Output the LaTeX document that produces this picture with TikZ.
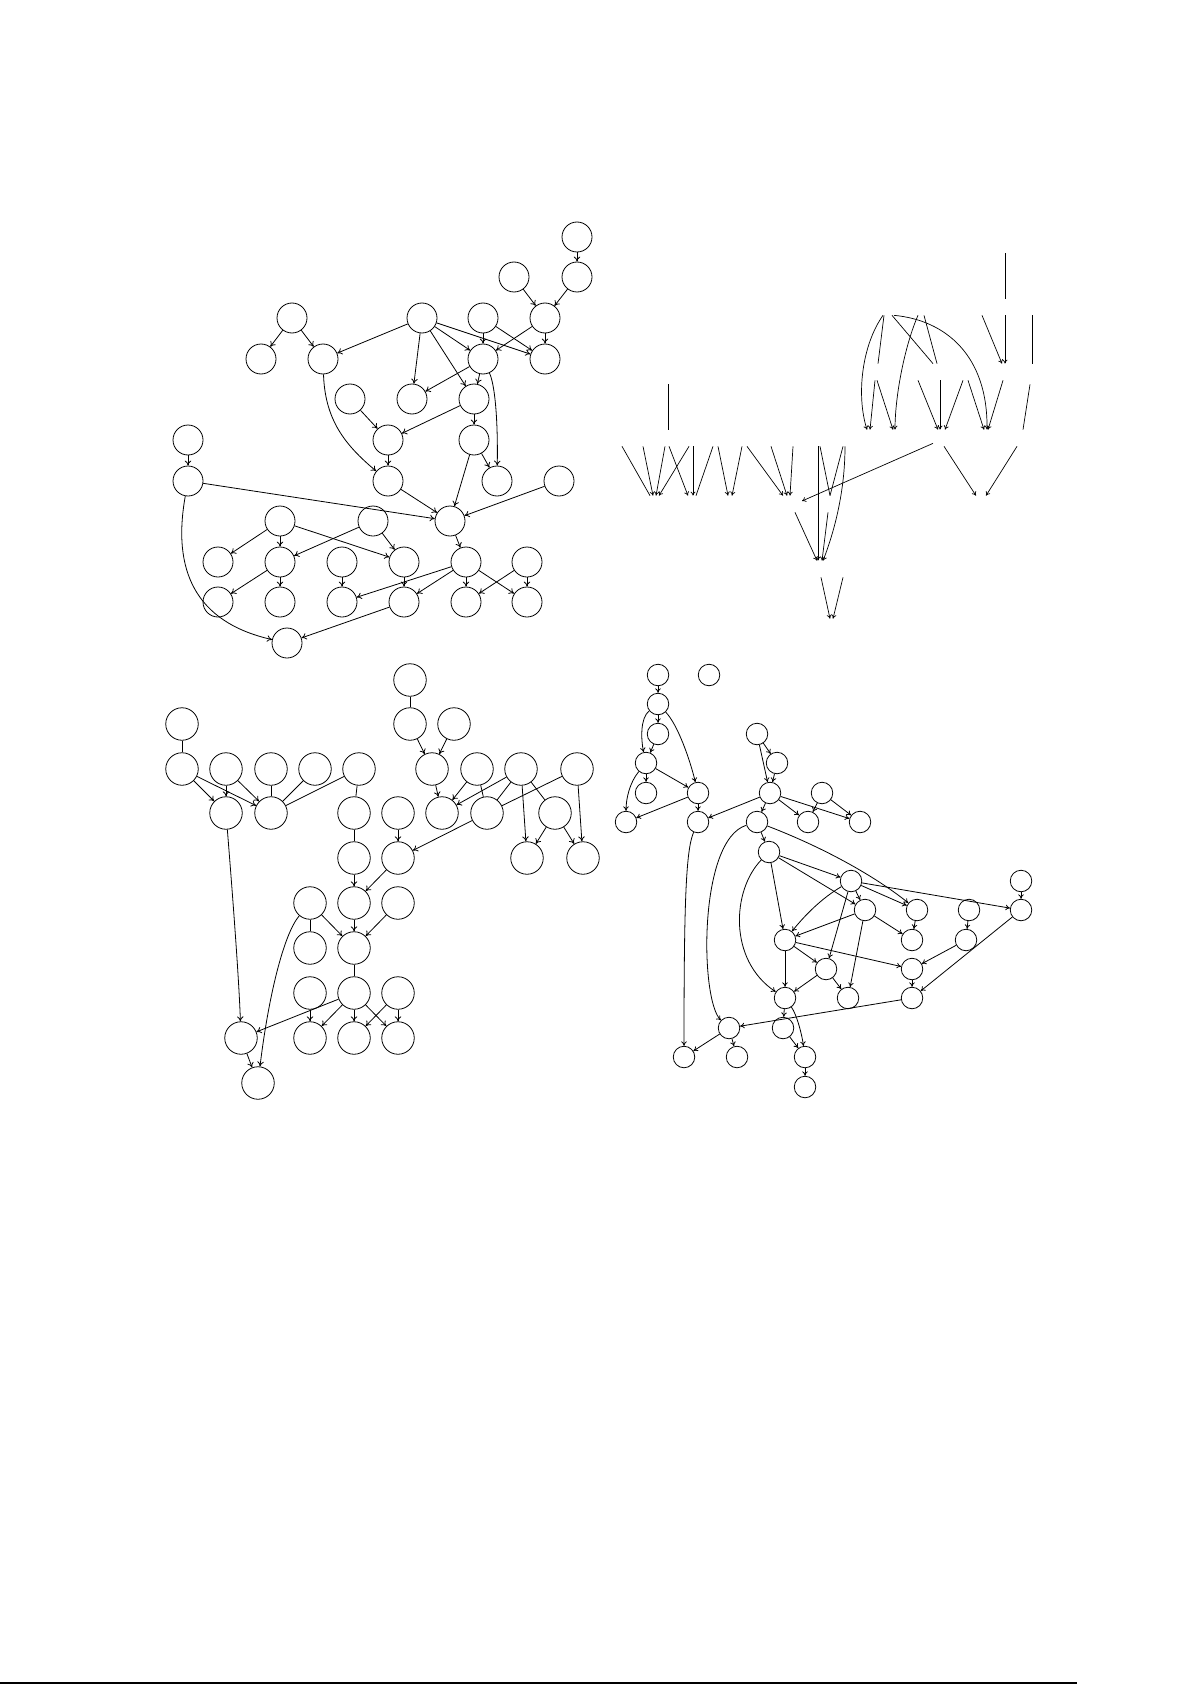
\documentclass[tikz,border=0pt]{standalone}
\usepackage{tikz}
\usetikzlibrary{arrows.meta}
\begin{document}
\begin{tikzpicture}[x=1pt,y=-1pt,line width=0.8pt,
  >={To[length=5pt,width=6.5pt]},
  bigv/.style={circle,draw,inner sep=0pt,minimum size=30pt},
  widev/.style={circle,draw,inner sep=0pt,minimum size=32.5pt},
  smallv/.style={circle,draw,inner sep=0pt,minimum size=21.5pt},
  ghost/.style={inner sep=0pt,minimum width=1pt,minimum height=16pt}]
\useasboundingbox (0,0) rectangle (1192,1685);

% Grafo superior izquierdo
\node[bigv] (a0) at (577,237) {};
\node[bigv] (a2) at (514,277) {};
\node[bigv] (a3) at (577,277) {};
\node[bigv] (a4) at (292,318) {};
\node[bigv] (a5) at (422,318) {};
\node[bigv] (a6) at (483,318) {};
\node[bigv] (a7) at (545,318) {};
\node[bigv] (a8) at (261,359) {};
\node[bigv] (a9) at (323,359) {};
\node[bigv] (a10) at (483,359) {};
\node[bigv] (a11) at (545,359) {};
\node[bigv] (a12) at (350,399) {};
\node[bigv] (a13) at (412,399) {};
\node[bigv] (a14) at (474,399) {};
\node[bigv] (b1) at (188,440) {};
\node[bigv] (b3) at (388,440) {};
\node[bigv] (b4) at (474,440) {};
\node[bigv] (b2) at (188,481) {};
\node[bigv] (b5) at (388,481) {};
\node[bigv] (b6) at (497,481) {};
\node[bigv] (b7) at (559,481) {};
\node[bigv] (b8) at (280,521) {};
\node[bigv] (b9) at (373,521) {};
\node[bigv] (b10) at (450,521) {};
\node[bigv] (b11) at (218,562) {};
\node[bigv] (b12) at (280,562) {};
\node[bigv] (b13) at (342,562) {};
\node[bigv] (b14) at (404,562) {};
\node[bigv] (b15) at (466,562) {};
\node[bigv] (b16) at (527,562) {};
\node[bigv] (b17) at (218,602) {};
\node[bigv] (b18) at (280,602) {};
\node[bigv] (b19) at (342,602) {};
\node[bigv] (b20) at (404,602) {};
\node[bigv] (b21) at (466,602) {};
\node[bigv] (b22) at (527,602) {};
\node[bigv] (b23) at (287,643) {};

\draw[->] (a0) -- (a3);
\draw[->] (a2) -- (a7);
\draw[->] (a3) -- (a7);
\draw[->] (a4) -- (a8);
\draw[->] (a4) -- (a9);
\draw[->] (a5) -- (a9);
\draw[->] (a5) -- (a13);
\draw[->] (a5) -- (a14);
\draw[->] (a5) -- (a10);
\draw[->] (a5) -- (a11);
\draw[->] (a6) -- (a10);
\draw[->] (a6) -- (a11);
\draw[->] (a7) -- (a10);
\draw[->] (a7) -- (a11);
\draw[->] (a10) -- (a13);
\draw[->] (a10) -- (a14);
\draw[->] (a10) .. controls (495,385) and (498,420) .. (b6);
\draw[->] (a9) .. controls (325,420) and (345,445) .. (b5);
\draw[->] (a12) -- (b3);
\draw[->] (a14) -- (b3);
\draw[->] (a14) -- (b4);
\draw[->] (b1) -- (b2);
\draw[->] (b2) -- (b10);
\draw[->] (b2) .. controls (172,570) and (195,622) .. (b23);
\draw[->] (b3) -- (b5);
\draw[->] (b5) -- (b10);
\draw[->] (b4) -- (b10);
\draw[->] (b4) -- (b6);
\draw[->] (b7) -- (b10);
\draw[->] (b8) -- (b11);
\draw[->] (b8) -- (b12);
\draw[->] (b8) -- (b14);
\draw[->] (b9) -- (b12);
\draw[->] (b9) -- (b14);
\draw[->] (b10) -- (b15);
\draw[->] (b12) -- (b17);
\draw[->] (b12) -- (b18);
\draw[->] (b13) -- (b19);
\draw[->] (b14) -- (b20);
\draw[->] (b15) -- (b19);
\draw[->] (b15) -- (b20);
\draw[->] (b15) -- (b21);
\draw[->] (b15) -- (b22);
\draw[->] (b16) -- (b21);
\draw[->] (b16) -- (b22);
\draw[->] (b20) -- (b23);

% Grafo superior derecho (nodos invisibles)
\begin{scope}[line width=0.7pt,>={To[length=4pt,width=5pt]}]
\node[ghost] (t0) at (1005,245) {};
\node[ghost] (t1a) at (888,307) {};
\node[ghost] (t1b) at (921,307) {};
\node[ghost] (t1c) at (980,307) {};
\node[ghost] (t1d) at (1005,307) {};
\node[ghost] (t1e) at (1032,307) {};
\node[ghost] (t2a) at (668,372) {};
\node[ghost] (t2b) at (878,372) {};
\node[ghost] (t2c) at (929,372) {};
\node[ghost] (t2d) at (966,372) {};
\node[ghost] (t2e) at (1003,372) {};
\node[ghost] (t2f) at (1030,372) {};
\node[ghost] (t3a) at (632,438) {};
\node[ghost] (t3b) at (667,438) {};
\node[ghost] (t3c) at (691,438) {};
\node[ghost] (t3d) at (715,438) {};
\node[ghost] (t3e) at (745,438) {};
\node[ghost] (t3f) at (771,438) {};
\node[ghost] (t3g) at (793,438) {};
\node[ghost] (t3h) at (819,438) {};
\node[ghost] (t3i) at (844,438) {};
\node[ghost] (t3j) at (869,438) {};
\node[ghost] (t3k) at (894,438) {};
\node[ghost] (t3l) at (941,438) {};
\node[ghost] (t3m) at (986,438) {};
\node[ghost] (t3n) at (1023,438) {};
\node[ghost] (t4a) at (655,504) {};
\node[ghost] (t4b) at (692,504) {};
\node[ghost] (t4c) at (730,504) {};
\node[ghost] (t4d) at (789,504) {};
\node[ghost] (t4e) at (830,504) {};
\node[ghost] (t4f) at (981,504) {};
\node[ghost] (t5a) at (820,569) {};
\node[ghost] (t5b) at (843,569) {};
\node[ghost] (t6) at (831,627) {};

\draw (t0.south) -- (t1d.north);
\draw[->] ([xshift=-5pt]t1a.south) .. controls (862,345) and (856,395) .. ([xshift=-2pt]t3j.north);
\draw ([xshift=-4pt]t1a.south) -- (t2b.north);
\draw ([xshift=4pt]t1a.south) -- ([xshift=4pt]t2c.north);
\draw[->] ([xshift=6pt]t1a.south) .. controls (945,320) and (988,355) .. ([xshift=1pt]t3m.north);
\draw[->] ([xshift=-3pt]t1b.south) .. controls (905,345) and (895,395) .. ([xshift=1pt]t3k.north);
\draw ([xshift=3pt]t1b.south) -- ([xshift=8pt]t2c.north);
\draw[->] ([xshift=2pt]t1c.south) -- ([xshift=-1pt]t2e.north);
\draw[->] (t1d.south) -- ([xshift=2pt]t2e.north);
\draw (t1e.south) -- ([xshift=2pt]t2f.north);
\draw ([yshift=-4pt]t2a.south) -- ([xshift=1pt]t3b.north);
\draw[->] ([xshift=-3pt]t2b.south) -- ([xshift=1pt]t3j.north);
\draw[->] ([xshift=-1pt]t2b.south) -- ([xshift=-1pt]t3k.north);
\draw[->] ([xshift=-11pt]t2c.south) -- ([xshift=-3pt]t3l.north);
\draw[->] ([xshift=11pt]t2c.south) -- ([xshift=-1pt]t3l.north);
\draw[->] ([xshift=-3pt]t2d.south) -- ([xshift=4pt]t3l.north);
\draw[->] ([xshift=2pt]t2d.south) -- ([xshift=-2pt]t3m.north);
\draw[->] (t2e.south) -- ([xshift=2pt]t3m.north);
\draw ([yshift=-4pt]t2f.south) -- (t3n.north);
\draw ([xshift=-10pt]t3a.south) -- ([xshift=-5pt]t4a.north);
\draw[->] ([xshift=11pt]t3a.south) -- ([xshift=-2pt]t4a.north);
\draw[->] ([xshift=-2pt]t3b.south) -- ([xshift=1pt]t4a.north);
\draw[->] ([xshift=2pt]t3b.south) -- ([xshift=-4pt]t4b.north);
\draw[->] ([xshift=-2pt]t3c.south) -- ([xshift=4pt]t4a.north);
\draw[->] ([xshift=2pt]t3c.south) -- ([xshift=1pt]t4b.north);
\draw ([xshift=-2pt]t3d.south) -- ([xshift=4pt]t4b.north);
\draw[->] ([xshift=3pt]t3d.south) -- ([xshift=-2pt]t4c.north);
\draw[->] ([xshift=-3pt]t3e.south) -- ([xshift=2pt]t4c.north);
\draw[->] ([xshift=2pt]t3e.south) -- ([xshift=-6pt]t4d.north);
\draw[->] (t3f.south) -- ([xshift=-2pt]t4d.north);
\draw[->] (t3g.south) -- ([xshift=1pt]t4d.north);
\draw[->] ([xshift=-8pt,yshift=3pt]t3l.south) -- ([xshift=13pt,yshift=3pt]t4d.center);
\draw[->] ([xshift=-1pt]t3h.south) -- ([xshift=-2pt]t5a.north);
\draw ([xshift=1pt]t3h.south) -- (t4e.north);
\draw ([xshift=-1pt]t3i.south) -- (t4e.north);
\draw[->] ([xshift=1pt]t3i.south) .. controls (845,490) and (835,530) .. ([xshift=3pt]t5a.north);
\draw[->] ([xshift=-6pt]t3n.south) -- ([xshift=5pt]t4f.north);
\draw[->] ([xshift=3pt]t3l.south) -- ([xshift=-5pt]t4f.north);
\draw[->] ([xshift=6pt]t4d.south) -- ([xshift=-3pt]t5a.north);
\draw[->] ([xshift=-2pt]t4e.south) -- ([xshift=2pt]t5a.north);
\draw[->] ([xshift=1pt]t5a.south) -- ([xshift=-1pt]t6.north);
\draw[->] (t5b.south) -- ([xshift=2pt]t6.north);
\end{scope}

% Grafo inferior izquierdo
\node[widev] (c1) at (410,680) {};
\node[widev] (c2) at (182,724) {};
\node[widev] (c3) at (410,724) {};
\node[widev] (c4) at (454,724) {};
\node[widev] (c5) at (182,769) {};
\node[widev] (c6) at (226,769) {};
\node[widev] (c7) at (271,769) {};
\node[widev] (c8) at (315,769) {};
\node[widev] (c9) at (359,769) {};
\node[widev] (c10) at (432,769) {};
\node[widev] (c11) at (477,769) {};
\node[widev] (c12) at (521,769) {};
\node[widev] (c13) at (577,769) {};
\node[widev] (c14) at (226,813) {};
\node[widev] (c15) at (271,813) {};
\node[widev] (c16) at (354,813) {};
\node[widev] (c17) at (398,813) {};
\node[widev] (c18) at (442,813) {};
\node[widev] (c19) at (487,813) {};
\node[widev] (c20) at (555,813) {};
\node[widev] (c21) at (354,858) {};
\node[widev] (c22) at (398,858) {};
\node[widev] (c23) at (527,858) {};
\node[widev] (c24) at (583,858) {};
\node[widev] (c25) at (310,903) {};
\node[widev] (c26) at (354,903) {};
\node[widev] (c27) at (398,903) {};
\node[widev] (c28) at (310,948) {};
\node[widev] (c29) at (354,948) {};
\node[widev] (c30) at (310,993) {};
\node[widev] (c31) at (354,993) {};
\node[widev] (c32) at (398,993) {};
\node[widev] (c33) at (241,1038) {};
\node[widev] (c34) at (310,1038) {};
\node[widev] (c35) at (354,1038) {};
\node[widev] (c36) at (398,1038) {};
\node[widev] (c37) at (258,1083) {};

\draw (c1) -- (c3);
\draw (c2) -- (c5);
\draw[->] (c3) -- (c10);
\draw[->] (c4) -- (c10);
\draw[->] (c5) -- (c14);
\draw[->] (c5) -- (c15);
\draw[->] (c6) -- (c14);
\draw[->] (c6) -- (c15);
\draw (c7) -- (c15);
\draw (c8) -- (c15);
\draw (c9) -- (c15);
\draw (c9) -- (c16);
\draw[->] (c10) -- (c18);
\draw[->] (c11) -- (c18);
\draw[->] (c12) -- (c18);
\draw (c11) -- (c19);
\draw (c12) -- (c19);
\draw (c13) -- (c19);
\draw[->] (c12) -- (c23);
\draw (c12) -- (c20);
\draw[->] (c13) -- (c24);
\draw[->] (c20) -- (c23);
\draw[->] (c20) -- (c24);
\draw (c16) -- (c21);
\draw[->] (c17) -- (c22);
\draw[->] (c19) -- (c22);
\draw[->] (c14) .. controls (233,900) and (239,980) .. (c33);
\draw[->] (c21) -- (c26);
\draw[->] (c22) -- (c26);
\draw (c25) -- (c28);
\draw[->] (c25) -- (c29);
\draw[->] (c26) -- (c29);
\draw[->] (c27) -- (c29);
\draw[->] (c25) .. controls (283,935) and (268,1000) .. (c37);
\draw (c29) -- (c31);
\draw[->] (c30) -- (c34);
\draw[->] (c31) -- (c33);
\draw[->] (c31) -- (c34);
\draw[->] (c31) -- (c35);
\draw[->] (c31) -- (c36);
\draw[->] (c32) -- (c35);
\draw[->] (c32) -- (c36);
\draw[->] (c33) -- (c37);

% Grafo inferior derecho
\begin{scope}[>={To[length=4.5pt,width=5.5pt]}]
\node[smallv] (d1) at (658,675) {};
\node[smallv] (d2) at (709,675) {};
\node[smallv] (d3) at (658,704) {};
\node[smallv] (d4) at (658,734) {};
\node[smallv] (d5) at (757,734) {};
\node[smallv] (d6) at (646,763) {};
\node[smallv] (d7) at (777,763) {};
\node[smallv] (d8) at (646,793) {};
\node[smallv] (d9) at (698,793) {};
\node[smallv] (d10) at (770,793) {};
\node[smallv] (d11) at (822,793) {};
\node[smallv] (d12) at (626,822) {};
\node[smallv] (d13) at (698,822) {};
\node[smallv] (d14) at (757,822) {};
\node[smallv] (d15) at (808,822) {};
\node[smallv] (d16) at (860,822) {};
\node[smallv] (d17) at (769,852) {};
\node[smallv] (d18) at (851,881) {};
\node[smallv] (d19) at (1021,881) {};
\node[smallv] (d20) at (865,910) {};
\node[smallv] (d21) at (917,910) {};
\node[smallv] (d22) at (969,910) {};
\node[smallv] (d23) at (1021,910) {};
\node[smallv] (d24) at (785,940) {};
\node[smallv] (d25) at (912,940) {};
\node[smallv] (d26) at (966,940) {};
\node[smallv] (d27) at (826,969) {};
\node[smallv] (d28) at (912,969) {};
\node[smallv] (d29) at (785,998) {};
\node[smallv] (d30) at (848,998) {};
\node[smallv] (d31) at (912,998) {};
\node[smallv] (d32) at (729,1028) {};
\node[smallv] (d33) at (783,1028) {};
\node[smallv] (d34) at (684,1057) {};
\node[smallv] (d35) at (737,1057) {};
\node[smallv] (d36) at (805,1057) {};
\node[smallv] (d37) at (805,1087) {};

\draw[->] (d1) -- (d3);
\draw[->] (d3) -- (d4);
\draw[->] (d3) .. controls (640,718) and (641,740) .. (d6);
\draw[->] (d4) -- (d6);
\draw[->] (d3) .. controls (678,725) and (690,760) .. (d9);
\draw[->] (d6) -- (d8);
\draw[->] (d6) -- (d9);
\draw[->] (d6) .. controls (630,782) and (626,798) .. (d12);
\draw[->] (d9) -- (d12);
\draw[->] (d9) -- (d13);
\draw[->] (d5) -- (d7);
\draw[->] (d5) -- (d10);
\draw[->] (d7) -- (d10);
\draw[->] (d10) -- (d13);
\draw[->] (d10) -- (d14);
\draw[->] (d10) -- (d15);
\draw[->] (d10) -- (d16);
\draw[->] (d11) -- (d15);
\draw[->] (d11) -- (d16);
\draw[->] (d14) -- (d17);
\draw[->] (d13) .. controls (686,850) and (684,900) .. (d34);
\draw[->] (d14) .. controls (698,840) and (700,1000) .. (d32);
\draw[->] (d14) .. controls (830,850) and (880,880) .. (d21);
\draw[->] (d17) -- (d18);
\draw[->] (d17) -- (d20);
\draw[->] (d17) -- (d24);
\draw[->] (d17) .. controls (732,890) and (728,960) .. (d29);
\draw[->] (d18) -- (d21);
\draw[->] (d18) -- (d23);
\draw[->] (d18) -- (d20);
\draw[->] (d18) .. controls (822,898) and (805,915) .. (d24);
\draw[->] (d18) -- (d27);
\draw[->] (d20) -- (d24);
\draw[->] (d20) -- (d25);
\draw[->] (d20) -- (d30);
\draw[->] (d21) -- (d25);
\draw[->] (d22) -- (d26);
\draw[->] (d19) -- (d23);
\draw[->] (d24) -- (d27);
\draw[->] (d24) -- (d28);
\draw[->] (d24) -- (d29);
\draw[->] (d26) -- (d28);
\draw[->] (d23) -- (d31);
\draw[->] (d28) -- (d31);
\draw[->] (d27) -- (d29);
\draw[->] (d27) -- (d30);
\draw[->] (d31) -- (d32);
\draw[->] (d29) -- (d33);
\draw[->] (d29) .. controls (797,1015) and (802,1035) .. (d36);
\draw[->] (d33) -- (d36);
\draw[->] (d32) -- (d34);
\draw[->] (d32) -- (d35);
\draw[->] (d36) -- (d37);
\end{scope}

% Regla inferior
\draw[line width=1.2pt] (0,1683) -- (1077,1683);
\end{tikzpicture}
\end{document}
